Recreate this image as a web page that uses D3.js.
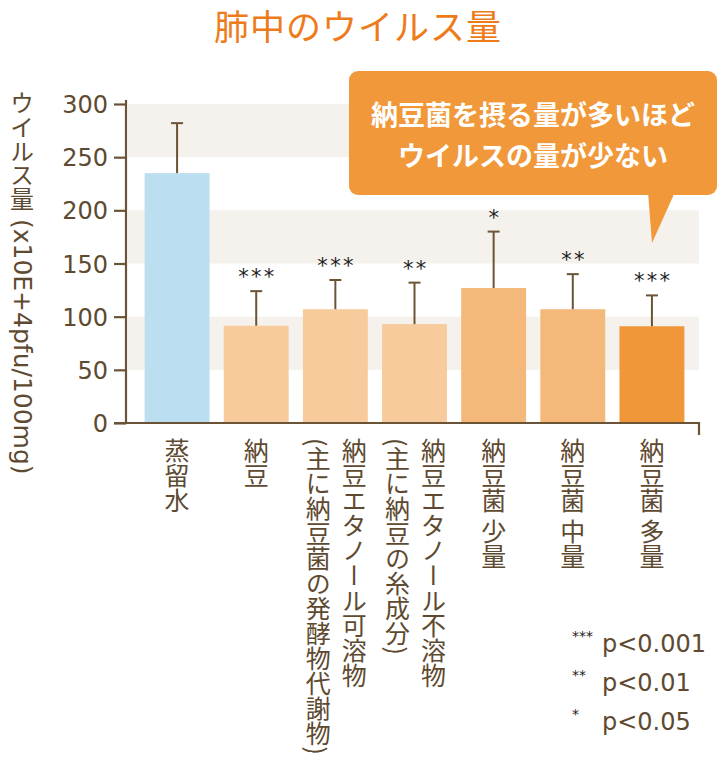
<!DOCTYPE html>
<html><head><meta charset="utf-8">
<script src="https://cdn.jsdelivr.net/npm/d3@7"></script>
<style>
html,body{margin:0;padding:0;background:#fff;}
svg{display:block;font-family:"Noto Sans CJK JP","Noto Sans",sans-serif;}
.vt{writing-mode:vertical-rl;}
</style></head>
<body>
<svg id="chart" width="720" height="760"></svg>
<script>
// ---- data ----
const categories = ["蒸留水","納豆","納豆エタノール可溶物","納豆エタノール不溶物","納豆菌 少量","納豆菌 中量","納豆菌 多量"];
const subLabels = ["","","(主に納豆菌の発酵物代謝物)","(主に納豆の糸成分)","","",""];
const means = [235, 91.5, 107, 93, 127, 107, 91];
const errTops = [282, 124, 134.5, 132, 180, 140, 120];
const stars = ["", "***", "***", "**", "*", "**", "***"];
const barColors = ["#bbdff0","#f7cb9c","#f7cb9c","#f7cb9c","#f4b87a","#f4b87a","#f0973a"];
const yTicks = [0,50,100,150,200,250,300];
const bands = [[50,100],[150,200],[250,300]];
const legendStars = ["***","**","*"];
const legendText = ["p<0.001","p<0.01","p<0.05"];
const titleText = "肺中のウイルス量";
const yTitleJa = "ウイルス量";
const yTitleUnit = " (x10E+4pfu/100mg)";
const calloutLines = ["納豆菌を摂る量が多いほど","ウイルスの量が少ない"];

const brown = "#5e4a30";
const axisCol = "#6b5436";
const latin = "DejaVu Sans";
const svg = d3.select("#chart");

const y = d3.scaleLinear().domain([0,300]).range([423,104]);
const x = d3.scaleBand().domain(categories).range([128,701]).paddingInner(0.18).paddingOuter(0.21);

// title
svg.append("text").attr("x",358).attr("y",40).attr("text-anchor","middle")
  .attr("font-size",35).attr("fill","#ee7b1a").attr("letter-spacing",1).text(titleText);

// background bands
svg.selectAll("rect.band").data(bands).join("rect").attr("class","band")
  .attr("x",128).attr("width",571)
  .attr("y",d=>y(d[1])).attr("height",d=>y(d[0])-y(d[1]))
  .attr("fill","#f5f1ec");

// bars
svg.selectAll("rect.bar").data(categories).join("rect").attr("class","bar")
  .attr("x",d=>x(d)).attr("width",x.bandwidth())
  .attr("y",(d,i)=>y(means[i])).attr("height",(d,i)=>y(0)-y(means[i]))
  .attr("fill",(d,i)=>barColors[i]);

// error bars
const eb = svg.append("g").attr("stroke",axisCol).attr("stroke-width",2);
categories.forEach((c,i)=>{
  const cx = x(c)+x.bandwidth()/2;
  eb.append("line").attr("x1",cx).attr("x2",cx).attr("y1",y(means[i])).attr("y2",y(errTops[i]));
  eb.append("line").attr("x1",cx-6).attr("x2",cx+6).attr("y1",y(errTops[i])).attr("y2",y(errTops[i]));
  if(stars[i]) svg.append("text").attr("x",cx+1.2).attr("y",y(errTops[i])-7)
    .attr("text-anchor","middle").attr("font-size",21).attr("letter-spacing",2.3)
    .attr("fill","#1e1e1e").attr("font-family",latin).text(stars[i]);
});

// y axis
const yAxis = svg.append("g").attr("transform","translate(126,0)")
  .call(d3.axisLeft(y).tickValues(yTicks).tickSize(12).tickSizeOuter(0).tickPadding(6));
yAxis.selectAll("path,line").attr("stroke",axisCol).attr("stroke-width",2.2);
yAxis.selectAll("text").attr("font-size",24).attr("fill",brown)
  .attr("font-family",latin).attr("dy","0.36em");
yAxis.select("path.domain").attr("d","M0,100V"+y(0));

// x axis line
svg.append("path").attr("d",`M114,${y(0)}H699V${y(0)+12}`).attr("fill","none")
  .attr("stroke",axisCol).attr("stroke-width",2.2);

// y axis title (vertical)
const yt = svg.append("text").attr("class","vt").attr("x",22).attr("y",91)
  .attr("font-size",24).attr("fill",brown);
yt.append("tspan").text(yTitleJa);
yt.append("tspan").attr("font-family",latin).attr("font-size",25).text(yTitleUnit);

// x labels (vertical)
categories.forEach((c,i)=>{
  const cx = x(c)+x.bandwidth()/2;
  if(subLabels[i]){
    svg.append("text").attr("class","vt").attr("x",cx+19).attr("y",438)
      .attr("font-size",25).attr("fill",brown).text(c);
    svg.append("text").attr("class","vt").attr("x",cx-17).attr("y",438)
      .attr("font-size",25).attr("fill",brown).text(subLabels[i]);
  } else {
    svg.append("text").attr("class","vt").attr("x",cx).attr("y",438)
      .attr("font-size",25).attr("fill",brown).text(c);
  }
});

// legend
legendText.forEach((t,i)=>{
  const by = 652 + i*39;
  svg.append("text").attr("x",572).attr("y",by-11).attr("font-size",14)
    .attr("fill","#222").attr("font-family",latin).text(legendStars[i]);
  svg.append("text").attr("x",602).attr("y",by).attr("font-size",24)
    .attr("font-family",latin).attr("fill",brown).text(t);
});

// callout
const co = svg.append("g");
co.append("rect").attr("x",349).attr("y",71).attr("width",368).attr("height",124)
  .attr("rx",9).attr("fill","#f0983a");
co.append("path").attr("d","M648,192L675,192L652,243Z").attr("fill","#f0983a");
calloutLines.forEach((t,i)=>{
  co.append("text").attr("x",533).attr("y",125+i*41).attr("text-anchor","middle")
    .attr("font-size",27).attr("font-weight",600).attr("fill","#fff").text(t);
});
</script>
</body></html>
